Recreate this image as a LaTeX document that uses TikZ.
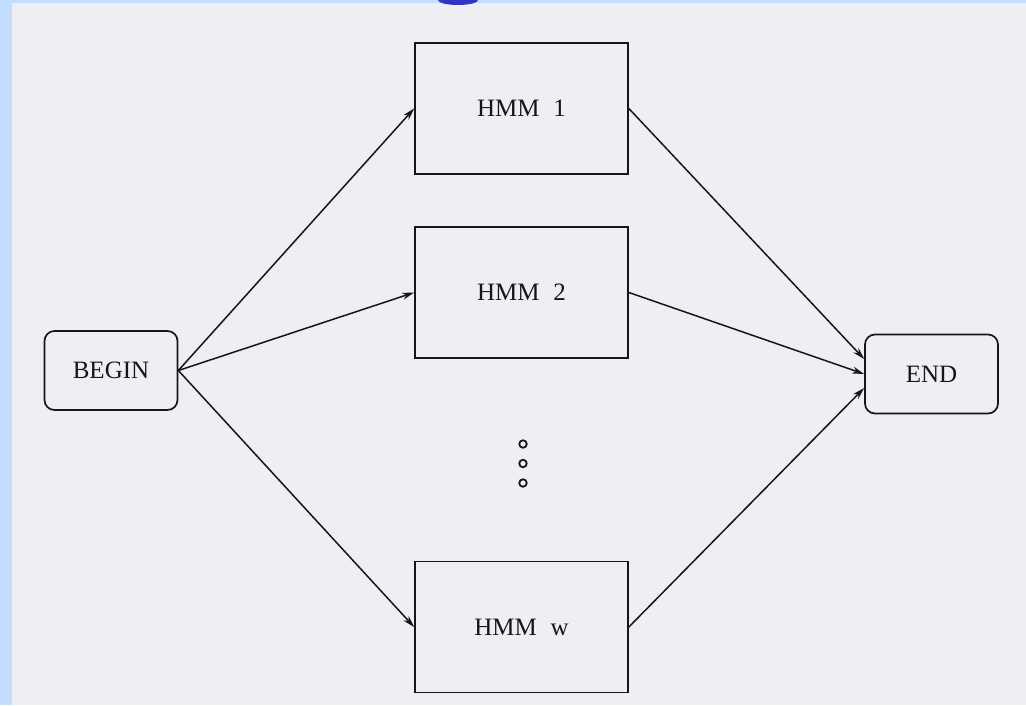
\documentclass[tikz,border=0pt]{standalone}
\usepackage{fontspec}
\setmainfont{Liberation Serif}
\usetikzlibrary{arrows.meta,calc}
\definecolor{frameblue}{HTML}{C4DEFF}
\definecolor{paper}{HTML}{EFEFF3}
\definecolor{ink}{HTML}{161616}
\definecolor{tabblue}{HTML}{3434C4}
\begin{document}
\begin{tikzpicture}[x=1pt,y=-1pt,
  box/.style={draw=ink,line width=1.7pt,fill=none,inner sep=0pt,
    font=\fontsize{25}{30}\selectfont,text=ink},
  hmmbox/.style={box,minimum width=213pt,minimum height=131pt},
  endbox/.style={box,rounded corners=10pt,minimum width=133pt,minimum height=79pt},
  link/.style={draw=ink,line width=1.5pt,-{Stealth[length=12pt,width=7pt]}},
  dot/.style={circle,draw=ink,line width=1.8pt,minimum size=7.5pt,inner sep=0pt}]
  % page and frame
  \useasboundingbox (0,0) rectangle (1026,705);
  \fill[frameblue] (0,0) rectangle (1026,705);
  \fill[paper] (12,3) rectangle (1026,705);
  \fill[tabblue] (438,0) -- (478,0) arc[start angle=0,end angle=-180,x radius=20pt,y radius=5pt] -- cycle;

  % nodes
  \node[endbox] (begin) at (111,370.5) {BEGIN};
  \node[endbox] (end) at (931.5,374) {END};
  \node[hmmbox] (h1) at (521.5,108.5) {HMM\hspace{0.55em}1};
  \node[hmmbox] (h2) at (521.5,292.5) {HMM\hspace{0.55em}2};
  \node[hmmbox] (hw) at (521.5,627) {HMM\hspace{0.55em}w};

  % ellipsis between the models
  \node[dot] (d1) at (523,444) {};
  \node[dot] (d2) at (523,463.5) {};
  \node[dot] (d3) at (523,483) {};

  % entry points on END
  \coordinate (e1) at ([yshift=15pt]end.west);
  \coordinate (e2) at (end.west);
  \coordinate (e3) at ([yshift=-14pt]end.west);

  % connectors
  \draw[link] (begin.east) -- (h1.west);
  \draw[link] (begin.east) -- (h2.west);
  \draw[link] (begin.east) -- (hw.west);
  \draw[link] (h1.east) -- (e1);
  \draw[link] (h2.east) -- (e2);
  \draw[link] (hw.east) -- (e3);
\end{tikzpicture}
\end{document}
